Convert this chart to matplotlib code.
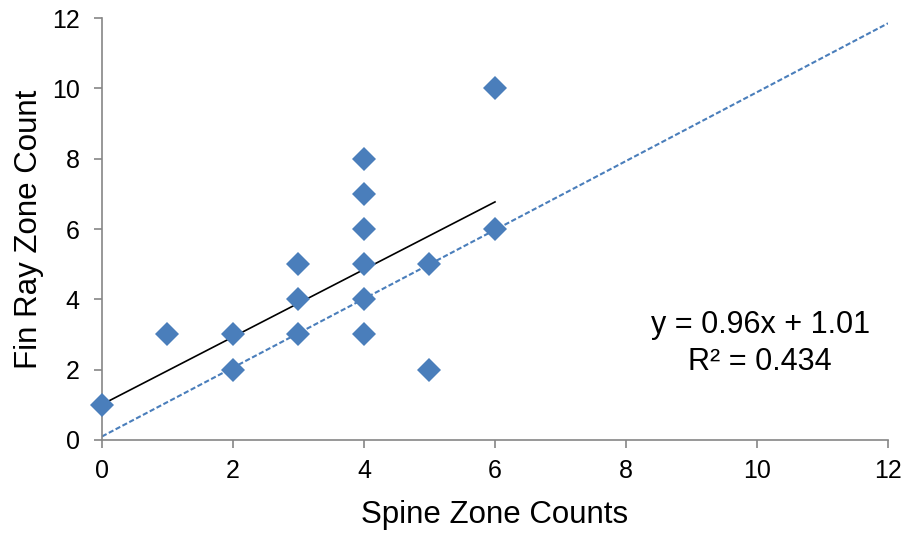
import matplotlib
matplotlib.use('Agg')
from matplotlib import pyplot

# Data #
spine_counts = [0, 1, 2, 2, 3, 3, 3, 4, 4, 4, 4, 4, 4, 5, 5, 6, 6]
fin_counts   = [1, 3, 3, 2, 5, 4, 3, 8, 7, 6, 5, 4, 3, 5, 2, 10, 6]
fit_slope, fit_intercept = 0.96, 1.01
fit_r2 = 0.434
ref_x = [0, 12]
ref_y = [0.1, 11.85]
ticks = [0, 2, 4, 6, 8, 10, 12]

# Style #
blue = '#4a7ebb'
grey = '#868686'
pyplot.rcParams['font.family'] = ['Liberation Sans', 'DejaVu Sans']

fig = pyplot.figure(figsize=(9.04, 5.33), dpi=100)
axes = fig.add_axes([0.1128, 0.1745, 0.8695, 0.7917])

# Reference dashed line #
axes.plot(ref_x, ref_y, color=blue, linestyle=(0, (2.5, 1.2)), linewidth=1.5, zorder=2)
# Trendline #
fit_x = [min(spine_counts), max(spine_counts)]
fit_y = [fit_slope * x + fit_intercept for x in fit_x]
axes.plot(fit_x, fit_y, color='black', linewidth=1.2, zorder=3)
# Points #
axes.plot(spine_counts, fin_counts, linestyle='none', marker='D', markersize=12,
          color=blue, markeredgewidth=0, zorder=4, clip_on=False)

# Equation #
axes.text(10.05, 3.04, 'y = %.2fx + %.2f' % (fit_slope, fit_intercept),
          ha='center', va='baseline', fontsize=22)
axes.text(10.05, 1.99, 'R² = %.3f' % fit_r2, ha='center', va='baseline', fontsize=22)

# Axes #
axes.set_xlim(0, 12)
axes.set_ylim(0, 12)
axes.set_xticks(ticks)
axes.set_yticks(ticks)
axes.spines['top'].set_visible(False)
axes.spines['right'].set_visible(False)
for side in ('left', 'bottom'):
    axes.spines[side].set_color(grey)
    axes.spines[side].set_linewidth(1.2)
axes.tick_params(direction='out', length=6, width=1.2, color=grey, labelsize=18)
axes.tick_params(axis='x', pad=8)
axes.tick_params(axis='y', pad=10)
axes.set_xlabel('Spine Zone Counts', fontsize=22.5, labelpad=12)
axes.set_ylabel('Fin Ray Zone Count', fontsize=22.5, labelpad=6)

fig.savefig('out.png', dpi=100)
pyplot.close(fig)
